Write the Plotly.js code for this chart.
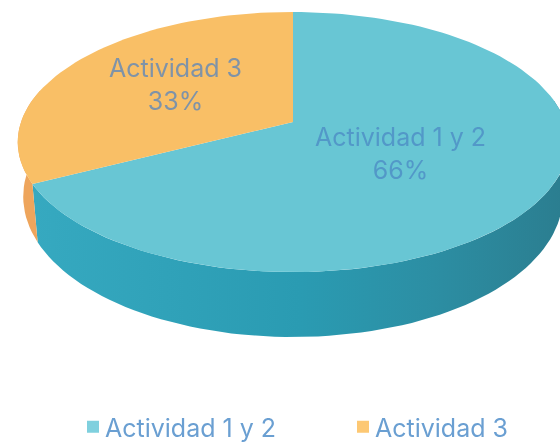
<!DOCTYPE html>
<html><head><meta charset="utf-8">
<script src="https://cdn.plot.ly/plotly-3.0.1.min.js"></script>
<style>html,body{margin:0;padding:0;background:#fff}#c{width:560px;height:443px;filter:blur(0.6px)}</style>
</head><body><div id="c"></div>
<script>
const categories = ['Actividad 1 y 2', 'Actividad 3'];
const values = [66, 33];
const percentLabels = ['66%', '33%'];
const topColors = ['#68c6d4', '#f9bf66'];
const sideColors = ['#2fa0b4', '#eea55c'];
const legendColors = ['#7fd0de', '#fdc873'];
const labelColors = ['#5298c8', '#7f93a8'];
const legendTextColor = '#6a9fd2';

const cx = 293, cy = 122, K = 272, k = 127, c = 0.154, depth = 65, shrink = 0.02, seamOffset = 3;
function proj(a, d) { // a: degrees clockwise from 12 o'clock, d: depth fraction
  const r = a * Math.PI / 180, u = Math.sin(r), w = -Math.cos(r), s = 1 - c * w;
  return [cx + K * u / s * (1 - shrink * d), cy + k * w / s + d * depth * (0.62 + 0.38 * (w + 1) / 2)];
}
function arc(a0, a1, d) {
  const n = Math.max(2, Math.round(Math.abs(a1 - a0) / 2)), pts = [];
  for (let i = 0; i <= n; i++) pts.push(proj(a0 + (a1 - a0) * i / n, d));
  return pts;
}
const total = values[0] + values[1];
const a1 = values[0] / total * 360 + seamOffset; // end of first slice, clockwise from top
function poly(name, pts, color, extra) {
  return Object.assign({ type: 'scatter', mode: 'lines', x: pts.map(p => p[0]), y: pts.map(p => p[1]),
    fill: 'toself', fillcolor: color, line: { width: 0 }, hoverinfo: 'skip', showlegend: false, name }, extra || {});
}
const traces = [];
const s1 = arc(80, a1, 0).concat(arc(a1, 80, 1));
traces.push(poly('side1', s1, sideColors[0], { fillgradient: { type: 'horizontal',
  colorscale: [[0, '#36a9c0'], [0.5, '#2a9bb2'], [0.75, '#2c8ea3'], [1, '#2b7d8f']] } }));
const s2 = arc(a1, 285, 0).concat(arc(285, a1, 1));
traces.push(poly('side2', s2, sideColors[1]));
const apex = [cx, cy];
traces.push(poly('top1', [apex].concat(arc(0, a1, 0)), topColors[0]));
traces.push(poly('top2', [apex].concat(arc(a1, 360, 0)), topColors[1]));
categories.forEach((name, i) => traces.push({ type: 'scatter', mode: 'markers', x: [null], y: [null], name,
  marker: { symbol: 'square', size: 16, color: legendColors[i] }, hoverinfo: 'skip', showlegend: true }));

const font = 'Inter, "Open Sans", sans-serif';
const layout = {
  width: 560, height: 443, margin: { l: 0, r: 0, t: 0, b: 0 }, paper_bgcolor: '#fff', plot_bgcolor: '#fff',
  xaxis: { range: [0, 560], visible: false, fixedrange: true },
  yaxis: { range: [443, 0], visible: false, fixedrange: true },
  showlegend: true,
  legend: { orientation: 'h', x: 0, xanchor: 'left', y: 0.0, yanchor: 'bottom',
    font: { family: font, size: 25, color: legendTextColor },
    itemsizing: 'constant', itemwidth: 30, entrywidth: 225, entrywidthmode: 'pixels', bgcolor: 'rgba(0,0,0,0)', traceorder: 'normal' },
  annotations: [
    { x: 400, y: 153.5, text: categories[0] + '<br>' + percentLabels[0], font: { family: font, size: 25, color: labelColors[0] } },
    { x: 175, y: 84.5, text: categories[1] + '<br>' + percentLabels[1], font: { family: font, size: 25, color: labelColors[1] } }
  ].map(a => Object.assign(a, { xref: 'x', yref: 'y', showarrow: false, align: 'center' }))
};
Plotly.newPlot('c', traces, layout, { staticPlot: true }).then(() => {
  document.querySelectorAll('.legendsymbols').forEach(el => el.setAttribute('transform', 'translate(8,0)'));
  const lg = document.querySelector('.legend');
  const m = /translate\(([-\d.]+)[ ,]+([-\d.]+)\)/.exec(lg.getAttribute('transform'));
  lg.setAttribute('transform', 'translate(65,' + (parseFloat(m[2]) + 7) + ')');
});
</script></body></html>
